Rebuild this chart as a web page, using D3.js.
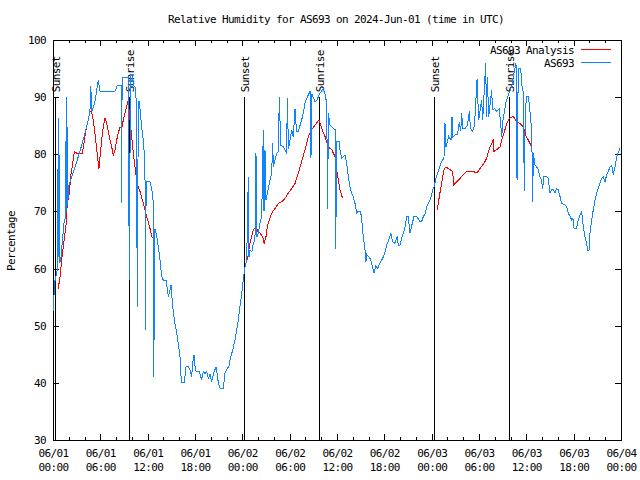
<!DOCTYPE html>
<html><head><meta charset="utf-8">
<script src="https://cdn.jsdelivr.net/npm/d3@7"></script>
<style>body{margin:0;background:#fff}svg{display:block}</style>
</head><body>
<svg id="c" width="640" height="480"></svg>
<script>
const titleText = "Relative Humidity for AS693 on 2024-Jun-01 (time in UTC)";
const yAxisLabel = "Percentage";
const seriesNames = ["AS693 Analysis", "AS693"];
const seriesColors = ["#ff0000", "#1084ff"];
const yTicks = [30, 40, 50, 60, 70, 80, 90, 100];
const xMajorHours = [0, 6, 12, 18, 24, 30, 36, 42, 48, 54, 60, 66, 72];
const xTickDates = ["06/01","06/01","06/01","06/01","06/02","06/02","06/02","06/02","06/03","06/03","06/03","06/03","06/04"];
const xTickTimes = ["00:00","06:00","12:00","18:00","00:00","06:00","12:00","18:00","00:00","06:00","12:00","18:00","00:00"];
const sunLabels = ["Sunset", "Sunrise", "Sunset", "Sunrise", "Sunset", "Sunrise"];
const sunHours = [0.25, 9.63, 24.21, 33.72, 48.30, 57.80];
const sunTopValue = 90;

// hours since 2024-06-01 00:00 UTC, relative humidity %
const stationObs = [[0.04,52.5],[0.19,57.5],[0.38,58.7],[0.57,60],[0.67,86.3],[0.74,62],[0.80,79.9],[0.86,61],[1.01,62],[1.20,65],[1.39,68],[1.58,69],[1.69,90.1],[1.75,70],[1.81,84.8],[1.88,71],[1.94,74.3],[2.37,76.1],[2.79,77.8],[3.21,79.6],[3.64,81.6],[4.06,83.7],[4.47,86],[4.69,87.8],[4.78,92],[4.94,87.5],[5.32,89.2],[5.74,93],[5.96,91],[7.86,91],[8.15,92.1],[8.62,92.1],[8.66,71.5],[8.77,93.5],[9.54,93.5],[9.67,58],[9.82,94],[10.01,94],[10.20,92],[10.39,91.8],[10.55,89.5],[10.69,53.3],[10.81,89.2],[10.94,89.2],[11.24,84.8],[11.45,82.5],[11.66,78.3],[11.70,49.2],[11.81,75.2],[12.30,75.2],[12.51,74],[12.68,72],[12.72,41.1],[12.78,72],[12.84,47.5],[12.93,67],[13.15,65.6],[13.35,63.8],[13.56,61.5],[13.78,58.6],[13.98,58],[14.32,58],[14.62,55.1],[14.83,56.3],[14.96,57.1],[15.17,53.3],[15.46,50.4],[15.68,48.7],[15.88,46.9],[16.10,44.6],[16.19,41.7],[16.31,40],[16.64,40],[16.86,42.8],[17.15,42.8],[17.37,42.3],[17.58,41.1],[17.71,43.4],[17.87,44.9],[18.0,43],[18.13,42],[18.55,42],[18.85,40.5],[19.05,42],[19.27,41.5],[19.48,42],[19.69,40.8],[19.90,41.5],[20.12,40.2],[20.32,41.5],[20.53,42.3],[20.66,42.8],[20.83,41.5],[20.95,40],[21.17,39.1],[21.59,39.1],[21.80,41.7],[22.02,42.3],[22.31,43],[22.53,44.6],[22.78,45.7],[23.07,47.5],[23.29,49.2],[23.49,51],[23.70,53.3],[23.92,55.7],[24.12,58],[24.25,59.5],[24.34,60.3],[24.55,61.5],[24.76,76.1],[24.84,62],[24.97,63.2],[25.22,63],[25.39,64.4],[25.60,65],[25.73,80.2],[25.86,65.5],[26.02,66.2],[26.24,68],[26.45,69.1],[26.66,84.3],[26.75,70],[26.87,80.8],[27.0,72],[27.09,72.6],[27.51,75.5],[27.72,76.7],[27.85,81.9],[27.93,77.8],[28.36,80.2],[28.56,80.5],[28.69,90.1],[28.86,81.6],[29.19,81.3],[29.62,80.2],[29.70,89.8],[29.85,81],[30.04,82.5],[30.26,84.3],[30.46,83],[30.68,88],[30.87,84],[31.09,84],[31.52,86],[31.73,87.2],[31.94,89],[32.16,89.8],[32.58,91],[32.70,79.3],[32.83,90.5],[33.21,89.2],[33.46,89.5],[33.84,90.7],[34.26,91.5],[34.48,90.5],[34.69,89],[34.82,70.5],[34.90,87.2],[35.11,85.1],[35.53,84.5],[35.75,84.3],[35.84,63.5],[35.96,82.2],[36.29,82.2],[36.38,80.8],[36.60,79.3],[36.80,79.6],[37.01,79.9],[37.23,78.4],[37.43,76.1],[37.65,74.3],[37.86,73.2],[38.07,72.5],[38.28,71.4],[38.50,69.7],[38.66,70],[39.00,70],[39.17,67.9],[39.33,65.6],[39.55,63.2],[39.67,61.2],[39.76,62.5],[39.97,62.1],[40.18,61.8],[40.40,60.9],[40.56,60],[40.69,59.2],[40.94,60.5],[41.16,60],[41.45,61],[41.79,61.8],[42.02,62.5],[42.30,64.1],[42.63,65.3],[42.81,66.2],[43.06,64.7],[43.35,64.4],[43.64,65.6],[43.77,64.1],[43.99,64.1],[44.20,65.3],[44.40,66.2],[44.58,67],[44.84,69.1],[45.04,69.1],[45.25,66.2],[45.47,67.5],[45.76,69.1],[46.10,69.1],[46.52,68.2],[46.73,68.2],[46.94,69.1],[47.15,69.5],[47.37,70.8],[47.70,71.7],[47.91,72.5],[48.13,73.8],[48.30,74.3],[48.55,75.8],[48.76,76.7],[48.97,77.5],[49.18,78.4],[49.40,79],[49.56,79.3],[49.69,85.4],[49.81,81.3],[50.16,83.1],[50.45,82.5],[50.58,86.6],[50.70,83],[50.96,83.4],[51.27,83.4],[51.50,85.7],[51.68,84],[51.81,87.2],[51.94,84.5],[52.23,84.5],[52.54,85.1],[52.77,87.5],[52.92,84.5],[53.20,84],[53.43,85],[53.75,93.1],[53.96,86],[54.34,89.5],[54.47,86],[54.85,95.9],[54.95,86.5],[55.05,93.6],[55.23,86.5],[55.61,91.2],[55.71,87.8],[55.96,88],[56.24,87.5],[56.57,88],[56.66,86.6],[56.88,83.1],[57.04,86],[57.42,89.2],[57.71,90.4],[58.14,91.8],[58.35,93.6],[58.69,95.9],[58.82,75.5],[58.98,95],[59.28,95],[59.45,92],[59.62,90.7],[59.74,73.5],[59.87,88],[60.05,90.1],[60.27,90.1],[60.46,87.5],[60.68,84.3],[60.81,71.7],[60.88,80.2],[61.10,78.1],[61.31,77.8],[61.52,77.3],[61.73,76.1],[61.92,75.5],[62.07,74],[62.24,76.1],[62.58,76.1],[62.78,75.8],[63.00,73.2],[63.21,73.8],[63.42,73.8],[63.63,73.2],[63.85,74],[64.05,73.8],[64.27,72.6],[64.48,71.4],[64.90,71.1],[65.11,70.8],[65.32,69.7],[65.53,69.2],[65.75,68.5],[65.91,68.8],[66.04,67.1],[66.38,67.1],[66.58,68.5],[66.80,69.4],[67.01,70],[67.22,67.3],[67.43,65.6],[67.65,64.4],[67.77,63.2],[67.94,63.2],[68.07,66.2],[68.28,68.5],[68.49,70.3],[68.70,72],[68.92,73.2],[69.12,74],[69.34,74.9],[69.55,75.8],[69.76,76],[69.97,75.2],[70.18,76.4],[70.39,77],[70.60,77.8],[70.82,78.1],[71.02,76.4],[71.24,77.8],[71.45,79.6],[71.65,80.3],[71.87,81]];

const analysisDay1 = [[0.67,56.5],[0.89,58.6],[1.10,61.5],[1.31,63.8],[1.52,66.2],[1.65,67.6],[1.81,71.4],[2.07,73.2],[2.24,76.1],[2.50,78.4],[2.70,80.5],[3.00,80.2],[3.42,80.1],[3.71,80.1],[3.93,81.9],[4.18,84.3],[4.47,86],[4.69,87.5],[4.88,87.5],[5.11,86],[5.32,83.7],[5.54,80.8],[5.74,78.4],[5.83,77.5],[5.96,79.6],[6.17,82.5],[6.38,84.8],[6.59,86.3],[6.81,85.4],[7.01,84],[7.23,82.5],[7.44,81.3],[7.64,79.9],[7.86,80.8],[8.07,82.5],[8.28,83.7],[8.49,84.8],[8.71,84.5],[8.91,86],[9.13,87.2],[9.34,88.3],[9.54,89.5],[9.76,86],[9.98,83.1],[10.18,80.2],[10.39,77.8],[10.61,75.5],[10.81,74.3],[11.03,73.5],[11.45,71.4],[11.88,69.1],[12.30,67],[12.59,65.3]];
const analysisDay2 = [[24.63,61.5],[24.97,64.4],[25.19,65.6],[25.39,66.8],[25.73,67.3],[26.02,66.4],[26.24,66.2],[26.58,65.6],[26.75,64.4],[27.0,65.6],[27.16,67.3],[27.42,68.5],[27.72,69.7],[28.14,70.5],[28.56,71.4],[28.99,71.7],[29.41,72.3],[29.83,73.2],[30.26,74],[30.68,74.9],[31.09,76.7],[31.52,78.7],[31.94,80.8],[32.36,83.1],[32.79,84.3],[33.21,85.1],[33.72,86],[34.06,84.5],[34.48,83.1],[34.90,81.3],[35.33,80.8],[35.75,79.6],[35.96,77.3],[36.16,75.5],[36.38,73.8],[36.70,72.3]];
const analysisDay3 = [[48.71,70.3],[48.97,72.6],[49.18,74.3],[49.40,76.1],[49.60,77.5],[49.82,77.8],[50.32,77.3],[50.67,77],[50.79,74.6],[51.17,75.2],[51.81,76.1],[52.44,77],[53.07,77],[53.78,76.8],[54.13,77.5],[54.63,78.4],[54.97,79.3],[55.27,80.8],[55.61,81.9],[55.81,82.6],[55.90,80.5],[56.24,80.8],[56.66,81.3],[56.88,82.5],[57.17,83.7],[57.51,85.4],[57.84,86.3],[58.35,86.6],[58.78,85.7],[59.20,85.4],[59.62,84.8],[60.0,83.1],[60.25,82.5],[60.68,81.3]];

const W = 640, H = 480;
const M = {left: 53, right: 621, top: 40, bottom: 440};
const FONT = "'DejaVu Sans Mono', 'Liberation Mono', monospace";

const svg = d3.select("#c");
svg.append("rect").attr("width", W).attr("height", H).attr("fill", "#fff");

const x = d3.scaleLinear().domain([0, 72]).range([M.left, M.right]);
const y = d3.scaleLinear().domain([30, 100]).range([M.bottom, M.top]);

function txt(sel) {
  return sel.attr("font-family", FONT).attr("font-size", 11).attr("letter-spacing", "-0.62px").attr("fill", "#000");
}

const minorHours = d3.range(0, 73, 2).filter(h => h % 6 !== 0);
const axisGroups = [
  [d3.axisBottom(x).tickValues(xMajorHours).tickSize(-6), `translate(0,${M.bottom})`],
  [d3.axisBottom(x).tickValues(minorHours).tickSize(-3), `translate(0,${M.bottom})`],
  [d3.axisTop(x).tickValues(xMajorHours).tickSize(-6), `translate(0,${M.top})`],
  [d3.axisTop(x).tickValues(minorHours).tickSize(-3), `translate(0,${M.top})`],
  [d3.axisLeft(y).tickValues(yTicks).tickSize(-6), `translate(${M.left},0)`],
  [d3.axisRight(y).tickValues(yTicks).tickSize(-6), `translate(${M.right},0)`]
];
axisGroups.forEach(([ax, tr]) => {
  const g = svg.append("g").attr("transform", tr).call(ax.tickFormat(""));
  g.select(".domain").remove();
  g.selectAll("line").attr("stroke", "#000").attr("shape-rendering", "crispEdges");
  g.selectAll("text").remove();
});

svg.append("rect").attr("x", M.left + 0.5).attr("y", M.top + 0.5)
  .attr("width", M.right - M.left).attr("height", M.bottom - M.top)
  .attr("fill", "none").attr("stroke", "#000").attr("shape-rendering", "crispEdges");

yTicks.forEach(v => {
  txt(svg.append("text")).attr("x", 46).attr("y", y(v) + 4).attr("text-anchor", "end").text(v);
});
xMajorHours.forEach((h, i) => {
  txt(svg.append("text")).attr("x", x(h) + 0.5).attr("y", 457).attr("text-anchor", "middle").text(xTickDates[i]);
  txt(svg.append("text")).attr("x", x(h) + 0.5).attr("y", 471).attr("text-anchor", "middle").text(xTickTimes[i]);
});

txt(svg.append("text")).attr("x", 336).attr("y", 23).attr("text-anchor", "middle").text(titleText);
txt(svg.append("text")).attr("transform", `translate(15,241) rotate(-90)`).attr("text-anchor", "middle").text(yAxisLabel);

sunHours.forEach((h, i) => {
  const sx = Math.round(x(h)) + 0.5;
  svg.append("line").attr("x1", sx).attr("x2", sx).attr("y1", y(30)).attr("y2", y(sunTopValue))
    .attr("stroke", "#000").attr("shape-rendering", "crispEdges");
  txt(svg.append("text")).attr("transform", `translate(${sx + 4},${y(sunTopValue) - 5}) rotate(-90)`)
    .attr("text-anchor", "start").text(sunLabels[i]);
});

const line = d3.line().x(d => x(d[0])).y(d => y(d[1]));
[analysisDay1, analysisDay2, analysisDay3].forEach(seg => {
  svg.append("path").attr("d", line(seg)).attr("fill", "none").attr("stroke", seriesColors[0])
    .attr("stroke-width", 1).attr("shape-rendering", "crispEdges");
});
svg.append("path").attr("d", line(stationObs)).attr("fill", "none").attr("stroke", seriesColors[1])
  .attr("stroke-width", 1).attr("shape-rendering", "crispEdges");

seriesNames.forEach((name, i) => {
  const ly = 49.5 + i * 13;
  txt(svg.append("text")).attr("x", 574).attr("y", ly + 4).attr("text-anchor", "end").text(name);
  svg.append("line").attr("x1", 581).attr("x2", 611).attr("y1", ly).attr("y2", ly)
    .attr("stroke", seriesColors[i]).attr("shape-rendering", "crispEdges");
});
</script>
</body></html>
